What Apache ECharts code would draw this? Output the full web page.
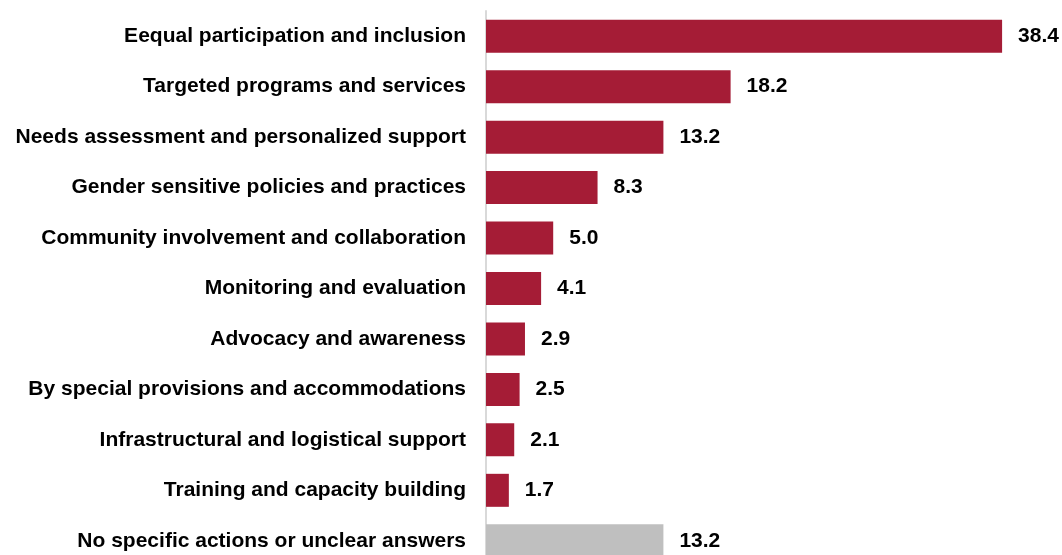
<!DOCTYPE html>
<html>
<head>
<meta charset="utf-8">
<script src="https://cdn.jsdelivr.net/npm/echarts@6/dist/echarts.min.js"></script>
<style>
  html, body { margin: 0; padding: 0; background: #ffffff; }
  #chart { width: 1062px; height: 555px; }
</style>
</head>
<body>
<div id="chart"></div>
<script>
// Categories, top to bottom
const categories = [
  'Eequal participation and inclusion',
  'Targeted programs and services',
  'Needs assessment and personalized support',
  'Gender sensitive policies and practices',
  'Community involvement and collaboration',
  'Monitoring and evaluation',
  'Advocacy and awareness',
  'By special provisions and accommodations',
  'Infrastructural and logistical support',
  'Training and capacity building',
  'No specific actions or unclear answers'
];
const values = [38.4, 18.2, 13.2, 8.3, 5.0, 4.1, 2.9, 2.5, 2.1, 1.7, 13.2];
const mainColor = '#A51C36';
const otherColor = '#BFBFBF';

const chart = echarts.init(document.getElementById('chart'));
chart.setOption({
  animation: false,
  grid: {
    left: 486, width: 537.6, top: 11, height: 555,
    containLabel: false,
    outerBoundsMode: 'none'
  },
  xAxis: {
    type: 'value', min: 0, max: 40,
    show: false
  },
  yAxis: {
    type: 'category',
    inverse: true,
    data: categories,
    axisLine: { show: true, lineStyle: { color: '#D9D9D9', width: 2 } },
    axisTick: { show: false },
    axisLabel: {
      margin: 20,
      color: '#000000',
      fontFamily: 'Liberation Sans, Arial, sans-serif',
      fontWeight: 'bold',
      fontSize: 21
    }
  },
  series: [{
    type: 'bar',
    barWidth: 33,
    data: values.map((v, i) => ({
      value: v,
      itemStyle: { color: i === values.length - 1 ? otherColor : mainColor }
    })),
    label: {
      show: true,
      position: 'right',
      distance: 16,
      color: '#000000',
      fontFamily: 'Liberation Sans, Arial, sans-serif',
      fontWeight: 'bold',
      fontSize: 21,
      formatter: p => p.value.toFixed(1)
    }
  }]
});
</script>
</body>
</html>
